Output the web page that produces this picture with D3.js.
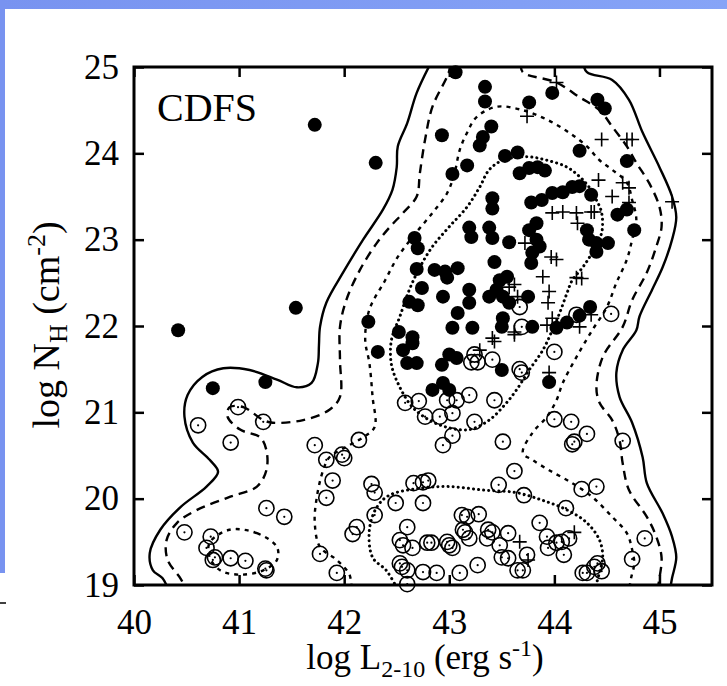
<!DOCTYPE html>
<html>
<head>
<meta charset="utf-8">
<script src="https://cdn.jsdelivr.net/npm/d3@7"></script>
<style>
  body { margin: 0; background: #fff; }
  svg text { font-family: "Liberation Serif", "Times New Roman", serif; fill: #000; }
</style>
</head>
<body>
<svg id="chart" width="727" height="686"></svg>
<script>
// ---- data (log L 2-10 keV, log NH) ----
const xTicks = [40, 41, 42, 43, 44, 45];
const yTicks = [19, 20, 21, 22, 23, 24, 25];

// absorbed sources (filled circles)
const absorbed = [
  [41.72,24.33],[42.30,23.89],[41.54,22.21],[40.42,21.95],[40.75,21.28],[41.25,21.35],
  [42.67,23.02],[42.70,22.90],[42.69,22.66],[42.74,22.44],[42.62,22.28],[42.70,22.24],
  [42.23,22.05],[42.52,21.93],[43.06,24.94],[43.34,24.77],[43.34,24.60],[43.76,24.59],
  [43.98,24.70],[44.41,24.62],[44.48,24.52],[42.93,24.21],[43.40,24.31],[43.32,24.19],
  [43.29,24.09],[43.53,23.97],[43.65,24.01],[43.17,23.86],[43.03,23.76],[43.67,23.77],
  [43.76,23.83],[43.84,23.84],[43.91,23.80],[44.24,24.03],[44.69,23.91],[43.41,23.48],
  [43.41,23.36],[43.78,23.43],[43.88,23.46],[43.98,23.54],[44.08,23.55],[44.17,23.61],
  [44.24,23.62],[44.35,23.52],[44.60,23.29],[44.69,23.35],[44.76,23.11],[43.19,23.14],
  [43.21,23.03],[43.38,23.14],[43.41,23.02],[43.57,22.97],[43.76,23.11],[43.83,23.19],
  [43.83,23.00],[43.86,22.92],[43.79,22.85],[43.78,22.73],[44.31,23.11],[44.33,23.00],
  [44.40,22.96],[44.51,22.96],[44.40,22.86],[43.43,22.74],[42.86,22.65],[42.96,22.63],
  [43.08,22.67],[42.98,22.56],[43.48,22.53],[43.55,22.57],[43.45,22.42],[43.38,22.34],
  [43.51,22.34],[43.57,22.27],[43.75,22.34],[43.19,22.42],[43.19,22.27],[42.94,22.34],
  [43.08,22.15],[43.51,22.09],[43.03,21.98],[43.22,21.98],[43.50,21.99],[43.79,21.99],
  [44.02,21.98],[44.12,22.04],[44.24,22.12],[44.34,22.22],[42.65,21.87],[42.56,21.72],
  [42.65,21.80],[42.69,21.57],[42.60,21.57],[43.00,21.67],[42.93,21.55],[43.07,21.63],
  [42.94,21.34],[42.84,21.26],[43.00,21.26],[43.50,21.49],[43.95,21.35],[42.32,21.70]
];

// unabsorbed sources (open circles)
const unabsorbed = [
  [40.99,21.06],[41.23,20.89],[40.61,20.85],[40.92,20.65],[41.72,20.62],[42.14,20.68],
  [41.83,20.45],[41.98,20.51],[42.00,20.47],[41.89,20.21],[41.83,20.01],[41.26,19.89],
  [41.43,19.79],[40.48,19.61],[40.73,19.56],[40.69,19.43],[40.77,19.32],[40.75,19.29],
  [40.92,19.31],[41.06,19.28],[41.25,19.19],[41.26,19.17],[41.77,19.36],[41.93,19.14],
  [42.58,21.11],[42.71,21.13],[42.77,20.95],[42.26,20.17],[42.29,20.07],[42.49,19.95],
  [42.29,19.81],[42.12,19.67],[42.08,19.59],[42.66,20.18],[42.75,20.19],[42.75,19.95],
  [42.60,19.67],[42.56,19.46],[42.65,19.43],[42.79,19.49],[42.55,19.21],[42.60,19.17],
  [42.75,19.15],[42.60,19.01],[44.00,21.70],[43.41,21.61],[43.24,21.67],[43.27,21.58],
  [43.21,21.58],[43.67,21.50],[43.69,21.46],[43.43,21.14],[43.19,21.20],[43.07,21.14],
  [42.98,21.14],[42.91,20.95],[43.03,20.99],[43.24,20.89],[43.03,20.73],[42.94,20.62],
  [43.51,20.66],[44.00,20.92],[44.16,20.89],[44.31,20.75],[44.19,20.66],[44.17,20.63],
  [44.65,20.67],[43.62,20.32],[43.47,20.16],[43.71,20.04],[44.26,20.11],[44.40,20.14],
  [44.11,19.89],[43.86,19.72],[42.80,20.21],[43.12,19.81],[43.17,19.79],[43.28,19.82],
  [43.13,19.64],[43.15,19.61],[43.19,19.54],[43.37,19.64],[43.41,19.61],[43.36,19.54],
  [43.56,19.60],[43.48,19.46],[43.50,19.32],[43.56,19.31],[43.74,19.35],[43.65,19.17],
  [43.70,19.17],[43.27,19.23],[43.10,19.14],[42.88,19.14],[42.53,19.52],[42.83,19.49],
  [42.98,19.50],[43.00,19.46],[43.03,19.43],[43.93,19.56],[44.02,19.49],[44.07,19.50],
  [44.14,19.54],[43.94,19.43],[44.09,19.35],[44.27,19.14],[44.31,19.14],[44.38,19.21],
  [44.41,19.25],[44.45,19.16],[44.86,19.54],[44.74,19.30],[42.53,19.25],[43.67,22.22],
  [43.69,21.99],[44.21,22.13],[44.54,22.14]
];

// other sources (crosses)
const crosses = [
  [44.02,24.82],[43.74,24.43],[44.45,24.16],[44.69,24.16],[44.74,24.16],[44.42,23.69],
  [44.65,23.66],[44.71,23.60],[44.55,23.50],[44.71,23.43],[43.98,23.31],[44.08,23.32],
  [44.21,23.31],[44.22,23.19],[44.35,23.32],[44.38,23.32],[43.72,22.96],[43.97,22.80],
  [44.02,22.77],[43.89,22.57],[44.21,22.56],[44.26,22.55],[43.95,22.40],[43.94,22.27],
  [43.57,22.45],[43.62,22.48],[43.65,22.34],[43.98,22.09],[43.93,22.01],[44.35,22.13],
  [44.24,21.99],[43.62,21.93],[43.41,21.86],[45.12,23.44],[43.29,21.72],[43.43,21.82],
  [43.62,21.90],[43.95,21.46],[44.19,19.61],[43.67,19.50],[43.75,19.29]
];

// density contours, outermost (solid) to innermost (dotted)
const solidLeft = [
  [42.83,25.06],[42.69,24.70],[42.60,24.35],[42.51,24.08],[42.50,23.84],[42.46,23.58],
  [42.37,23.35],[42.18,23.00],[41.99,22.62],[41.83,22.27],[41.77,21.99],[41.76,21.78],
  [41.75,21.57],[41.69,21.34],[41.55,21.29],[41.36,21.38],[41.10,21.49],[40.85,21.51],
  [40.65,21.41],[40.51,21.20],[40.48,20.95],[40.56,20.65],[40.72,20.45],[40.80,20.31],
  [40.69,20.14],[40.44,19.90],[40.25,19.64],[40.15,19.37],[40.18,19.17],[40.27,19.08],
  [40.32,18.97]
];
const solidRight = [
  [44.27,25.06],[44.31,24.94],[44.55,24.85],[44.71,24.62],[44.84,24.24],[45.00,23.84],
  [45.12,23.50],[45.16,23.26],[45.12,23.00],[45.03,22.68],[44.93,22.42],[44.81,22.11],
  [44.78,21.95],[44.65,21.72],[44.59,21.46],[44.62,21.18],[44.74,20.88],[44.84,20.48],
  [44.88,20.18],[45.03,19.83],[45.12,19.56],[45.16,19.32],[45.12,19.08],[45.10,18.94]
];
const dashLeft = [
  [43.02,25.03],[42.98,24.89],[42.84,24.54],[42.77,24.16],[42.72,23.77],[42.69,23.50],
  [42.56,23.31],[42.43,23.14],[42.31,22.96],[42.15,22.65],[42.02,22.30],[41.96,21.99],
  [41.96,21.61],[41.96,21.18],[41.86,21.03],[41.61,20.91],[41.32,20.88],[41.23,20.91],
  [41.04,21.06],[40.91,21.06],[40.89,20.95],[41.01,20.80],[41.20,20.71],[41.26,20.56],
  [41.26,20.33],[41.17,20.14],[40.91,20.02],[40.60,19.87],[40.41,19.72],[40.31,19.52],
  [40.32,19.29],[40.44,19.08],[40.49,18.97]
];
const dashRight = [
  [43.68,25.04],[43.70,24.94],[44.02,24.82],[44.24,24.65],[44.43,24.50],[44.55,24.31],
  [44.69,24.08],[44.78,23.89],[44.90,23.66],[45.00,23.38],[45.02,23.15],[44.97,22.92],
  [44.88,22.62],[44.74,22.30],[44.65,21.99],[44.46,21.64],[44.40,21.29],[44.43,21.11],
  [44.55,20.91],[44.62,20.68],[44.65,20.41],[44.71,20.10],[44.88,19.79],[44.97,19.56],
  [45.02,19.32],[45.00,19.08],[44.98,18.94]
];
const shortDash = [
  [42.07,18.97],[42.05,19.12],[41.93,19.29],[41.77,19.44],[41.72,19.72],[41.74,20.02],
  [41.80,20.33],[41.86,20.48],[42.02,20.60],[42.18,20.71],[42.29,20.83],[42.27,21.18],
  [42.24,21.57],[42.20,21.84],[42.24,22.19],[42.39,22.53],[42.51,22.80],[42.67,23.06],
  [42.84,23.31],[42.98,23.54],[43.05,23.77],[43.10,24.04],[43.17,24.24],[43.26,24.42],
  [43.45,24.54],[43.70,24.50],[43.93,24.39],[44.14,24.24],[44.31,24.08],[44.43,23.92],
  [44.55,23.81],[44.69,23.66],[44.74,23.46],[44.78,23.23],[44.74,23.00],[44.69,22.77],
  [44.59,22.50],[44.50,22.22],[44.36,21.95],[44.21,21.64],[44.08,21.34],[44.02,21.14],
  [43.93,20.95],[43.79,20.76],[43.70,20.53],[43.79,20.45],[43.95,20.33],[44.17,20.18],
  [44.36,20.02],[44.55,19.79],[44.69,19.60],[44.74,19.41],[44.76,19.25],[44.73,19.08],
  [44.71,18.94]
];
const shortDashLoop = [
  [40.91,19.64],[41.17,19.60],[41.36,19.44],[41.36,19.29],[41.23,19.17],[41.01,19.12],
  [40.82,19.17],[40.72,19.32],[40.72,19.49]
];
const dottedUpper = [
  [43.74,23.96],[43.51,23.92],[43.38,23.81],[43.29,23.61],[43.17,23.38],[43.00,23.15],
  [42.84,22.92],[42.72,22.68],[42.62,22.42],[42.53,22.11],[42.45,21.84],[42.45,21.55],
  [42.53,21.29],[42.65,21.06],[42.81,20.91],[43.00,20.82],[43.19,20.80],[43.38,20.91],
  [43.53,21.09],[43.64,21.26],[43.76,21.49],[43.89,21.72],[43.98,21.95],[44.05,22.15],
  [44.12,22.38],[44.17,22.53],[44.27,22.68],[44.36,22.85],[44.45,23.08],[44.45,23.31],
  [44.40,23.46],[44.33,23.61],[44.24,23.73],[44.12,23.84],[43.93,23.92]
];
const dottedLower = [
  [42.50,18.97],[42.40,19.17],[42.27,19.32],[42.24,19.64],[42.31,19.90],[42.43,20.04],
  [42.72,20.12],[43.00,20.14],[43.32,20.10],[43.64,20.07],[43.89,19.98],[44.12,19.87],
  [44.31,19.72],[44.43,19.52],[44.46,19.32],[44.43,19.15],[44.39,18.97]
];

// ---- layout ----
const svg = d3.select('#chart');
const plotL = 134, plotR = 712, plotT = 67, plotB = 585;
const serif = '"Liberation Serif", "Times New Roman", serif';

const x = d3.scaleLinear().domain([40, 45.5]).range([plotL, plotR]);
const y = d3.scaleLinear().domain([19, 25]).range([plotB, plotT]);

const defs = svg.append('defs');

// slide background strip
const grad = defs.append('linearGradient')
    .attr('id', 'bluegrad').attr('x1', 0).attr('x2', 1).attr('y1', 0).attr('y2', 0);
grad.append('stop').attr('offset', '0%').attr('stop-color', '#7893f0');
grad.append('stop').attr('offset', '100%').attr('stop-color', '#86a4f7');

svg.append('rect').attr('x', 0).attr('y', 0).attr('width', 727).attr('height', 9)
    .attr('fill', 'url(#bluegrad)');
svg.append('rect').attr('x', 0).attr('y', 0).attr('width', 5).attr('height', 573)
    .attr('fill', '#7893f0');
svg.append('line').attr('x1', 0).attr('x2', 6).attr('y1', 603).attr('y2', 603)
    .attr('stroke', '#000').attr('stroke-width', 1.5);

defs.append('clipPath').attr('id', 'plotclip')
  .append('rect').attr('x', plotL).attr('y', plotT)
  .attr('width', plotR - plotL).attr('height', plotB - plotT);

// ---- contours ----
const plot = svg.append('g').attr('clip-path', 'url(#plotclip)');
const openLine = d3.line().x(d => x(d[0])).y(d => y(d[1])).curve(d3.curveCatmullRom);
const closedLine = d3.line().x(d => x(d[0])).y(d => y(d[1])).curve(d3.curveCatmullRomClosed);

const contours = [
  { pts: solidLeft, gen: openLine, dash: null },
  { pts: solidRight, gen: openLine, dash: null },
  { pts: dashLeft, gen: openLine, dash: '9,6' },
  { pts: dashRight, gen: openLine, dash: '9,6' },
  { pts: shortDash, gen: openLine, dash: '4,5' },
  { pts: shortDashLoop, gen: closedLine, dash: '4,5' },
  { pts: dottedUpper, gen: closedLine, dash: '0.1,5', cap: 'round' },
  { pts: dottedLower, gen: openLine, dash: '0.1,5', cap: 'round' }
];

plot.selectAll('path.contour')
  .data(contours)
  .enter().append('path')
    .attr('class', 'contour')
    .attr('d', d => d.gen(d.pts))
    .attr('fill', 'none')
    .attr('stroke', '#000')
    .attr('stroke-width', d => d.cap ? 3 : 2.4)
    .attr('stroke-linecap', d => d.cap || 'butt')
    .attr('stroke-dasharray', d => d.dash);

// ---- points ----
const pts = svg.append('g');

pts.selectAll('circle.abs')
  .data(absorbed)
  .enter().append('circle')
    .attr('class', 'abs')
    .attr('cx', d => x(d[0]))
    .attr('cy', d => y(d[1]))
    .attr('r', 7)
    .attr('fill', '#000');

const un = pts.selectAll('g.unabs')
  .data(unabsorbed)
  .enter().append('g')
    .attr('class', 'unabs')
    .attr('transform', d => `translate(${x(d[0])},${y(d[1])})`);
un.append('circle').attr('r', 7.6).attr('fill', 'none').attr('stroke', '#000').attr('stroke-width', 1.6);
un.append('circle').attr('r', 1.1).attr('fill', '#000');

pts.selectAll('path.cross')
  .data(crosses)
  .enter().append('path')
    .attr('class', 'cross')
    .attr('transform', d => `translate(${x(d[0])},${y(d[1])})`)
    .attr('d', 'M-7,0H7M0,-7V7')
    .attr('stroke', '#000')
    .attr('stroke-width', 1.6);

// ---- axes ----
const fontSize = 35;
const styleAxis = g => {
  g.attr('font-family', serif).attr('font-size', fontSize);
  g.select('.domain').remove();
  g.selectAll('.tick line').attr('stroke', '#000').attr('stroke-width', 2.5);
  g.selectAll('.tick text').style('font-family', serif).style('font-size', fontSize + 'px');
};

svg.append('g').attr('transform', `translate(0,${plotB})`)
  .call(d3.axisBottom(x).tickValues(xTicks).tickSizeInner(-10).tickSizeOuter(0).tickPadding(24).tickFormat(d3.format('d')))
  .call(styleAxis);
svg.append('g').attr('transform', `translate(0,${plotT})`)
  .call(d3.axisTop(x).tickValues(xTicks).tickSizeInner(-10).tickSizeOuter(0).tickFormat(''))
  .call(styleAxis);
svg.append('g').attr('transform', `translate(${plotL},0)`)
  .call(d3.axisLeft(y).tickValues(yTicks).tickSizeInner(-10).tickSizeOuter(0).tickPadding(15).tickFormat(d3.format('d')))
  .call(styleAxis);
svg.append('g').attr('transform', `translate(${plotR},0)`)
  .call(d3.axisRight(y).tickValues(yTicks).tickSizeInner(-10).tickSizeOuter(0).tickFormat(''))
  .call(styleAxis);

// frame
svg.append('rect')
  .attr('x', plotL).attr('y', plotT)
  .attr('width', plotR - plotL).attr('height', plotB - plotT)
  .attr('fill', 'none').attr('stroke', '#000').attr('stroke-width', 3);

// ---- labels ----
svg.append('text').attr('x', 157).attr('y', 121).attr('font-size', 40).text('CDFS');

const xt = svg.append('text').attr('x', 425).attr('y', 669)
  .attr('text-anchor', 'middle').attr('font-size', 35);
xt.append('tspan').text('log L');
xt.append('tspan').attr('font-size', 24).attr('dy', 8).text('2-10');
xt.append('tspan').attr('dy', -8).text(' (erg s');
xt.append('tspan').attr('font-size', 24).attr('dy', -13).text('-1');
xt.append('tspan').attr('dy', 13).text(')');

const yt = svg.append('text')
  .attr('transform', 'translate(59,325) rotate(-90)')
  .attr('text-anchor', 'middle').attr('font-size', 38);
yt.append('tspan').text('log N');
yt.append('tspan').attr('font-size', 26).attr('dy', 8).text('H');
yt.append('tspan').attr('dy', -8).text(' (cm');
yt.append('tspan').attr('font-size', 26).attr('dy', -14).text('-2');
yt.append('tspan').attr('dy', 14).text(')');
</script>
</body>
</html>
